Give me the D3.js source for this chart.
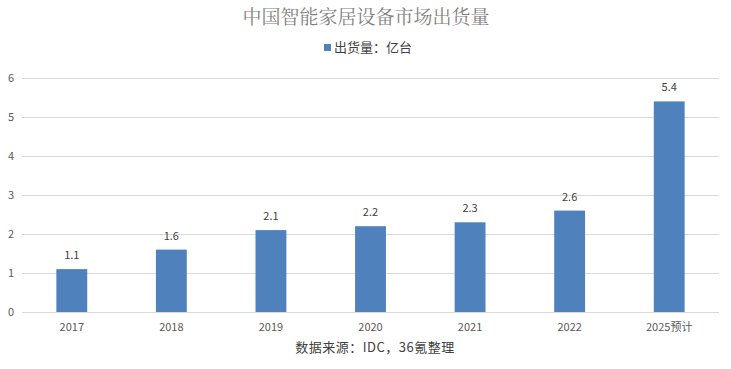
<!DOCTYPE html>
<html><head><meta charset="utf-8">
<script src="https://cdn.jsdelivr.net/npm/d3@7/dist/d3.min.js"></script>
<style>body{margin:0;background:#fff}svg{display:block}</style>
</head><body>
<svg id="c" width="731" height="369"></svg>
<script>
const categories = ["2017","2018","2019","2020","2021","2022","2025预计"];
const values = [1.1,1.6,2.1,2.2,2.3,2.6,5.4];
const yTicks = [0,1,2,3,4,5,6];
const titleText = "中国智能家居设备市场出货量";
const legendText = "出货量：亿台";
const sourceText = "数据来源：IDC，36氪整理";

const svg = d3.select("#c");
const font = "'Microsoft YaHei','Noto Sans CJK SC',sans-serif";
const L = 22, R = 719, T = 78, B = 312;
const x = d3.scaleBand().domain(categories).range([L, R]).paddingInner(0.69).paddingOuter(0.345);
const y = d3.scaleLinear().domain([0, 6]).range([B, T]);

svg.append("text").attr("x", 366).attr("y", 24).attr("text-anchor", "middle")
  .attr("font-family", "'Noto Serif CJK SC','Noto Sans CJK SC',serif").attr("font-size", 19)
  .attr("fill", "#7f7f7f").text(titleText);

const lg = svg.append("g");
lg.append("rect").attr("x", 324).attr("y", 44).attr("width", 7).attr("height", 7).attr("fill", "#4F81BD");
lg.append("text").attr("x", 334).attr("y", 52).attr("font-family", font).attr("font-size", 13)
  .attr("fill", "#404040").text(legendText);

const grid = svg.append("g");
grid.selectAll("line").data(yTicks).join("line")
  .attr("x1", L).attr("x2", R).attr("y1", d => y(d) + 0.5).attr("y2", d => y(d) + 0.5)
  .attr("stroke", "#d9d9d9").attr("stroke-width", 1);

svg.append("g").selectAll("text").data(yTicks).join("text")
  .attr("x", 11).attr("y", d => y(d) + 4).attr("text-anchor", "middle")
  .attr("font-family", font).attr("font-size", 11).attr("fill", "#595959").text(d => d);

svg.append("g").selectAll("rect").data(values).join("rect")
  .attr("x", (d, i) => x(categories[i])).attr("width", x.bandwidth())
  .attr("y", d => y(d)).attr("height", d => y(0) - y(d)).attr("fill", "#4F81BD");

svg.append("g").selectAll("text").data(values).join("text")
  .attr("x", (d, i) => x(categories[i]) + x.bandwidth() / 2).attr("y", d => y(d) - 10)
  .attr("text-anchor", "middle").attr("font-family", font).attr("font-size", 11)
  .attr("fill", "#404040").text(d => d.toFixed(1));

svg.append("g").selectAll("text").data(categories).join("text")
  .attr("x", d => x(d) + x.bandwidth() / 2).attr("y", 331)
  .attr("text-anchor", "middle").attr("font-family", font).attr("font-size", 11)
  .attr("fill", "#595959").text(d => d);

svg.append("text").attr("x", 375).attr("y", 352).attr("text-anchor", "middle")
  .attr("font-family", font).attr("font-size", 13).attr("letter-spacing", 0.5).attr("fill", "#404040").text(sourceText);
</script>
</body></html>
